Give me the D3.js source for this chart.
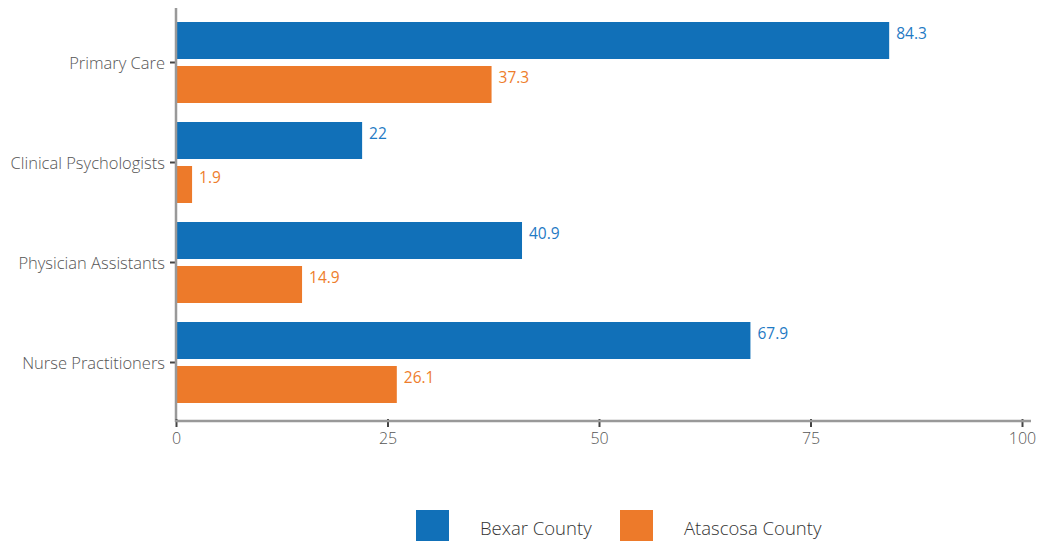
<!DOCTYPE html>
<html><head><meta charset="utf-8">
<script src="https://cdn.jsdelivr.net/npm/d3@7"></script>
<style>body{margin:0;background:#fff}svg{display:block}text{font-family:"Open Sans",Lato,sans-serif}</style>
</head><body><svg id="c" width="1041" height="541"></svg>
<script>
const categories = ["Primary Care","Clinical Psychologists","Physician Assistants","Nurse Practitioners"];
const seriesNames = ["Bexar County","Atascosa County"];
const bexar = [84.3, 22, 40.9, 67.9];
const atascosa = [37.3, 1.9, 14.9, 26.1];
const ticks = [0,25,50,75,100];
const colors = ["#1170b8","#ed7a2a"];
const labelColors = ["#1f7ac4","#ee7d2c"];

const svg = d3.select("#c");
const x = d3.scaleLinear().domain([0,100]).range([176,1022]);
const y = d3.scaleBand().domain(categories).range([12.5,412.5]).paddingInner(0).paddingOuter(0);
const sub = d3.scaleBand().domain(seriesNames).range([0,100]).paddingInner(0.159).paddingOuter(0.216);
const data = [bexar, atascosa];

// bars
categories.forEach((c,i)=>{
  seriesNames.forEach((s,j)=>{
    const v = data[j][i];
    const y0 = y(c)+sub(s);
    svg.append("rect").attr("x",x(0)).attr("y",y0).attr("width",x(v)-x(0)).attr("height",sub.bandwidth()).attr("fill",colors[j]);
    svg.append("text").attr("x",x(v)+7).attr("y",y0+12.5)
      .attr("dominant-baseline","middle").attr("font-size",15.5).attr("fill",labelColors[j]).text(v);
  });
});

// y axis
const yAxis = d3.axisLeft(y).tickSize(6).tickPadding(5);
const gy = svg.append("g").attr("transform","translate(176,0)").call(yAxis);
gy.select(".domain").remove();
gy.selectAll(".tick line").attr("stroke","#444").attr("stroke-width",2);
gy.selectAll(".tick text").attr("font-size",16.5).attr("font-weight",300).attr("fill","#555").attr("dy","0.38em");
svg.append("line").attr("x1",176).attr("x2",176).attr("y1",8).attr("y2",422).attr("stroke","#999").attr("stroke-width",2.5);

// x axis
const xAxis = d3.axisBottom(x).tickValues(ticks).tickSize(6).tickPadding(6);
const gx = svg.append("g").attr("transform","translate(0,421)").call(xAxis);
gx.select(".domain").remove();
gx.selectAll(".tick line").attr("stroke","#444").attr("stroke-width",2).attr("y1",-2);
gx.selectAll(".tick text").attr("font-size",16).attr("font-weight",300).attr("fill","#555");
svg.append("line").attr("x1",175).attr("x2",1031).attr("y1",421).attr("y2",421).attr("stroke","#999").attr("stroke-width",2.5);

// legend
const legX = [416, 620];
seriesNames.forEach((s,j)=>{
  svg.append("rect").attr("x",legX[j]).attr("y",510).attr("width",33).attr("height",33).attr("fill",colors[j]);
  svg.append("text").attr("x",legX[j]+64).attr("y",535).attr("font-size",18.5).attr("font-weight",300).attr("fill","#333").text(s);
});
</script></body></html>
